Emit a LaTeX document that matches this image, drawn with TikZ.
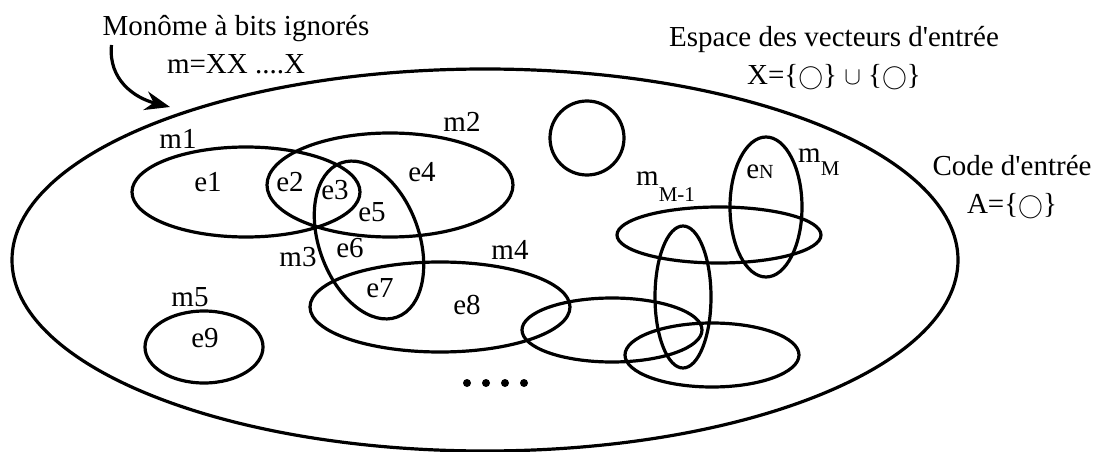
\documentclass[tikz,border=0pt]{standalone}
\usepackage{fontspec}
\setmainfont{Liberation Serif}
\usetikzlibrary{arrows.meta}
\newcommand{\msub}[2]{m\raisebox{-#2pt}{\fontsize{21}{21}\selectfont #1}}
\newcommand{\circset}{\{{\fontsize{27}{27}\selectfont$\bigcirc$}\}}

\begin{document}
\begin{tikzpicture}[x=1pt, y=-1pt,
      set/.style={line width=3.2pt},
      lbl/.style={font=\fontsize{29}{38}\selectfont, inner sep=0pt, align=center},
      grain/.style={circle, fill, minimum size=8pt, inner sep=0pt}
  ]
    \useasboundingbox (0,0) rectangle (1109,452);
    % input vector space
    \draw[set] (485,260) ellipse [x radius=473, y radius=191];
    % monomials
    \draw[set] (246,192) ellipse [x radius=114, y radius=45];
    \draw[set] (390,185) ellipse [x radius=123, y radius=52];
    \draw[set, rotate around={-70:(369,240)}] (369,240) ellipse [x radius=82, y radius=50];
    \draw[set] (440,307) ellipse [x radius=130, y radius=45];
    \draw[set] (204,347) ellipse [x radius=59, y radius=36];
    \draw[set] (587,138) circle (37);
    \draw[set] (612,330) ellipse [x radius=90, y radius=32];
    \draw[set] (712,355) ellipse [x radius=87, y radius=32];
    \draw[set] (683,297) ellipse [x radius=28, y radius=71];
    \draw[set] (719,235) ellipse [x radius=102, y radius=28];
    \draw[set] (766,207) ellipse [x radius=36, y radius=70];
    % labels
    \node[lbl] (m1) at (178,139) {m1};
    \node[lbl] (m2) at (462,122) {m2};
    \node[lbl] (m3) at (298,257) {m3};
    \node[lbl] (m4) at (510,250) {m4};
    \node[lbl] (m5) at (190,297) {m5};
    \node[lbl] (e1) at (208,182) {e1};
    \node[lbl] (e2) at (290,182) {e2};
    \node[lbl] (e3) at (335,190) {e3};
    \node[lbl] (e4) at (422,172) {e4};
    \node[lbl] (e5) at (372,212) {e5};
    \node[lbl] (e6) at (350,248) {e6};
    \node[lbl] (e7) at (380,288) {e7};
    \node[lbl] (e8) at (467,305) {e8};
    \node[lbl] (e9) at (205,338) {e9};
    \node[lbl] (eN) at (760,172) {e{\fontsize{20}{20}\selectfont N}};
    \node[lbl, anchor=base west] (mM1) at (636,185) {\msub{M-1}{16}};
    \node[lbl, anchor=base west] (mM) at (798,162) {\msub{M}{13}};
    \foreach \x in {467,486,505,524}
      \node[grain] at (\x,383) {};
    % captions
    \node[lbl] (mono) at (236,45) {Monôme à bits ignorés\\m=XX ....X};
    \node[lbl] (space) at (834,58) {Espace des vecteurs d\textquotesingle entrée\\X=\circset\ $\cup$ \circset};
    \node[lbl] (code) at (1012,187) {Code d\textquotesingle entrée\\A=\circset};
    \coordinate (tip) at (170,107);
    \draw[set, -{Stealth[length=25pt, width=19pt]}] ([xshift=9pt]mono.west)
      .. controls (108,80) and (135,98) .. (tip);
\end{tikzpicture}
\end{document}
